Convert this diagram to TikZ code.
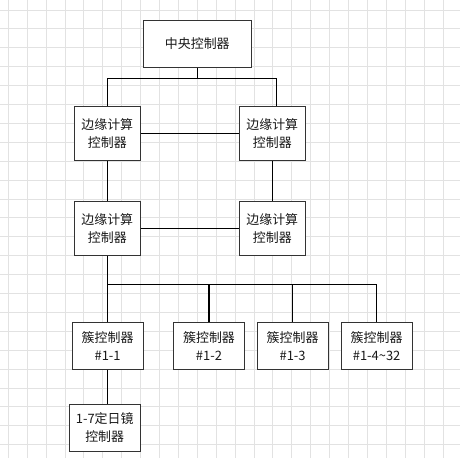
\documentclass[tikz,border=0pt]{standalone}
\usepackage{fontspec}
\setmainfont{Noto Sans CJK SC}
\definecolor{gridc}{HTML}{E2E2E2}
\definecolor{boxc}{HTML}{333333}
\begin{document}
\begin{tikzpicture}[x=0.75pt,y=-0.75pt,
  box/.style={draw=boxc, line width=0.8pt, fill=white, rectangle, align=center,
    inner sep=0pt, font=\fontsize{9.7pt}{13.5pt}\selectfont, text=black!90},
  link/.style={draw=black, line width=0.8pt}]
\useasboundingbox (0,0) rectangle (460,458);
\fill[white] (0,0) rectangle (460,458);
\foreach \i in {0,...,24} {
  \draw[gridc, line width=0.75pt] ({8.3+18.9*\i},0) -- ({8.3+18.9*\i},458);
  \draw[gridc, line width=0.75pt] (0,{10+18.9*\i}) -- (460,{10+18.9*\i});
}
% nodes
\node[box, minimum width=81pt, minimum height=35.25pt] (cen) at (197.3,43.8) {中央控制器};
\node[box, minimum width=49.5pt, minimum height=40.5pt] (e1) at (107.3,133.3) {边缘计算\\控制器};
\node[box, minimum width=49.5pt, minimum height=40.5pt] (e2) at (272.3,133.3) {边缘计算\\控制器};
\node[box, minimum width=49.5pt, minimum height=40.5pt] (e3) at (107.3,228.3) {边缘计算\\控制器};
\node[box, minimum width=49.5pt, minimum height=40.5pt] (e4) at (272.3,228.3) {边缘计算\\控制器};
\node[box, minimum width=53.25pt, minimum height=35.25pt] (c1) at (107.6,345.8) {簇控制器\\\#1-1};
\node[box, minimum width=53.25pt, minimum height=35.25pt] (c2) at (209,345.8) {簇控制器\\\#1-2};
\node[box, minimum width=53.25pt, minimum height=35.25pt] (c3) at (292.6,345.8) {簇控制器\\\#1-3};
\node[box, minimum width=53.25pt, minimum height=35.25pt] (c4) at (376.6,345.8) {簇控制器\\\#1-4\textasciitilde 32};
\node[box, minimum width=53pt, minimum height=35.25pt] (h) at (104.7,427.8) {1-7定日镜\\控制器};
% connectors
\coordinate (b1) at (197.3,78.3);
\coordinate (e2t) at (276.3,106.3);
\coordinate (bus) at (107.3,284.3);
\draw[link] (cen.south) -- (b1);
\draw[link] (e1.north) |- (b1) -| (e2t);
\draw[link] (e1) -- (e2);
\draw[link] (e1) -- (e3);
\draw[link] (e2) -- (e4);
\draw[link] (e3) -- (e4);
\draw[link] (e3.south) -- (e3.south |- c1.north);
\draw[link] (bus) -| (c2.north);
\draw[link] (bus) -| (c3.north);
\draw[link] (bus) -| (c4.north);
\draw[link] (c1.south -| bus) -- (h.north -| bus);
\end{tikzpicture}
\end{document}
